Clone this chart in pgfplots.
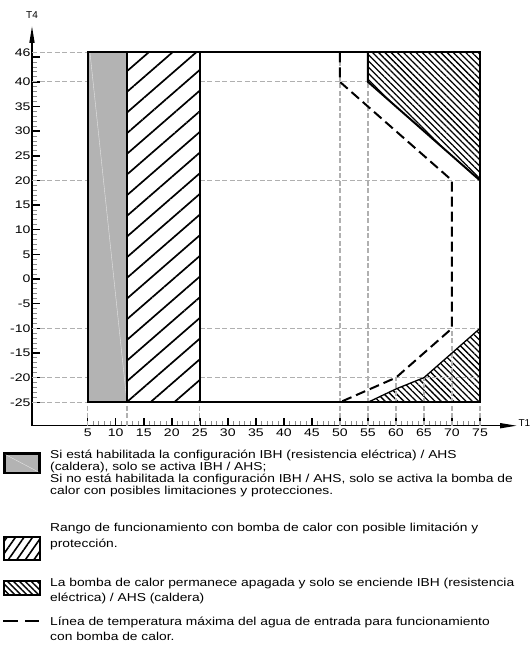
\documentclass[border=0pt]{standalone}
\usepackage{pgfplots}
\pgfplotsset{compat=1.18}
\usepackage{fontspec}
\setmainfont{Liberation Sans}
\newfontfamily\legfont{Liberation Sans}[FakeStretch=1.2]
\newfontfamily\tickfont{Liberation Sans}[FakeStretch=1.28]
\usetikzlibrary{patterns.meta,arrows.meta}

\definecolor{gridgray}{RGB}{176,176,176}
\definecolor{boxgray}{RGB}{179,179,179}

\pgfplotsset{
  refline/.style={gridgray, line width=1.2pt, dash pattern=on 5pt off 2.5pt, forget plot},
  edge/.style={black, line width=2pt, forget plot},
}

\begin{document}
\begin{tikzpicture}[x=1pt,y=1pt]
\path[use as bounding box] (0,0) rectangle (532,-657);
\begin{axis}[
  at={(32pt,-425.7pt)}, anchor=south west,
  scale only axis, width=485pt, height=399.7pt,
  xmin=-4.94, xmax=81.6, ymin=-29.75, ymax=51.33,
  axis lines=left, clip=false,
  axis line style={line width=1.5pt, -{Triangle[length=17pt,width=5pt]}},
  tick align=inside,
  major tick length=8pt, minor tick length=5pt,
  major tick style={black, line width=1.5pt},
  minor tick style={black!45, line width=1pt},
  xtick={5,10,...,75},
  xticklabels={5,10,15,20,25,30,35,40,45,50,55,60,65,70,75},
  minor x tick num=4,
  ytick={-25,-20,...,45},
  yticklabels={-25,-20,-15,-10,-5,0,5,10,15,20,25,30,35,40,{}},
  minor y tick num=4,
  extra y ticks={46}, extra y tick labels={46},
  extra y tick style={major tick length=0pt},
  tick label style={font=\tickfont\fontsize{11}{12}\selectfont},
  yticklabel style={inner sep=1.3pt},
  xticklabel style={inner sep=3pt},
]
% fills
\addplot[fill=boxgray, draw=none, forget plot] coordinates {(5,-25) (12,-25) (12,46) (5,46)} -- cycle;
\addplot[black!10, line width=0.4pt, forget plot] coordinates {(5.4,46) (12,-25)};
\addplot[draw=none, preaction={fill=white}, pattern={Lines[angle=41,distance=15.6pt,line width=1.7pt]}, forget plot]
  coordinates {(12,-25) (25,-25) (25,46) (12,46)} -- cycle;
\addplot[draw=none, pattern={Lines[angle=-45,distance=4.4pt,line width=1.3pt]}, forget plot]
  coordinates {(55,46) (75,46) (75,20) (55,40)} -- cycle;
\addplot[draw=none, pattern={Lines[angle=-45,distance=4.4pt,line width=1.3pt]}, forget plot]
  coordinates {(55,-25) (60,-22.3) (65,-20) (75,-10) (75,-25)} -- cycle;
% reference lines
\addplot[refline] coordinates {(-4.94,46) (5,46)};
\addplot[refline] coordinates {(-4.94,40) (5,40)};
\addplot[refline] coordinates {(25,40) (55,40)};
\addplot[refline] coordinates {(-4.94,20) (5,20)};
\addplot[refline] coordinates {(25,20) (75,20)};
\addplot[refline] coordinates {(-4.94,-10) (5,-10)};
\addplot[refline] coordinates {(25,-10) (75,-10)};
\addplot[refline] coordinates {(-4.94,-20) (5,-20)};
\addplot[refline] coordinates {(25,-20) (75,-20)};
\addplot[refline] coordinates {(-4.94,-25) (5,-25)};
\addplot[refline] coordinates {(5,-29.75) (5,-25)};
\addplot[refline] coordinates {(12,-29.75) (12,-25)};
\addplot[refline] coordinates {(25,-29.75) (25,-25)};
\addplot[refline] coordinates {(75,-29.75) (75,-25)};
\addplot[refline] coordinates {(50,-29.75) (50,46)};
\addplot[refline] coordinates {(55,-29.75) (55,46)};
\addplot[refline] coordinates {(60,-29.75) (60,-20)};
\addplot[refline] coordinates {(65,-29.75) (65,-20)};
\addplot[refline] coordinates {(70,-29.75) (70,-10)};
% outlines
\addplot[edge] coordinates {(5,-25) (75,-25) (75,46) (5,46)} -- cycle;
\addplot[edge] coordinates {(12,-25) (12,46)};
\addplot[edge] coordinates {(25,-25) (25,46)};
\addplot[edge] coordinates {(55,46) (55,40) (75,20)};
\addplot[edge, line width=1.3pt] coordinates {(55,-25) (60,-22.3) (65,-20) (75,-10)};
% max inlet water temperature
\addplot[black, line width=2pt, dash pattern=on 10pt off 5pt, forget plot]
  coordinates {(50,46) (50,40) (70,20) (70,-10) (60,-20) (50,-25)};
\end{axis}
% axis names
\node[anchor=south, inner sep=0, font=\fontsize{10}{12}\selectfont] at (32,-18.5) {T4};
\node[anchor=west, inner sep=0, font=\fontsize{10}{12}\selectfont] at (518.3,-422.7) {T1};
% legend
\begin{scope}[every node/.style={anchor=base west, inner sep=0, font=\legfont\fontsize{11.5}{12}\selectfont}]
\draw[line width=2.4pt, fill=boxgray] (4.5,-453.5) rectangle (39.5,-473.1);
\draw[black!10, line width=0.4pt] (5.7,-454.7) -- (38.3,-471.9);
\node at (50,-458.3) {Si está habilitada la configuración IBH (resistencia eléctrica) / AHS};
\node at (50,-470.5) {(caldera), solo se activa IBH / AHS;};
\node at (50,-482.7) {Si no está habilitada la configuración IBH / AHS, solo se activa la bomba de};
\node at (50,-494.9) {calor con posibles limitaciones y protecciones.};
\draw[line width=2pt, pattern={Lines[angle=55,distance=7pt,line width=1.6pt]}] (4.3,-536.7) rectangle (39.7,-559.7);
\node at (50,-531) {Rango de funcionamiento con bomba de calor con posible limitación y};
\node at (50,-547) {protección.};
\draw[line width=2pt, pattern={Lines[angle=-45,distance=4.2pt,line width=1.4pt]}] (4.3,-581) rectangle (39.7,-595);
\node at (50,-586.7) {La bomba de calor permanece apagada y solo se enciende IBH (resistencia};
\node at (50,-601.5) {eléctrica) / AHS (caldera)};
\draw[line width=2pt] (3.3,-621) -- (18.3,-621);
\draw[line width=2pt] (25,-621) -- (39.3,-621);
\node at (50,-625) {Línea de temperatura máxima del agua de entrada para funcionamiento};
\node at (50,-640) {con bomba de calor.};
\end{scope}
\end{tikzpicture}
\end{document}
